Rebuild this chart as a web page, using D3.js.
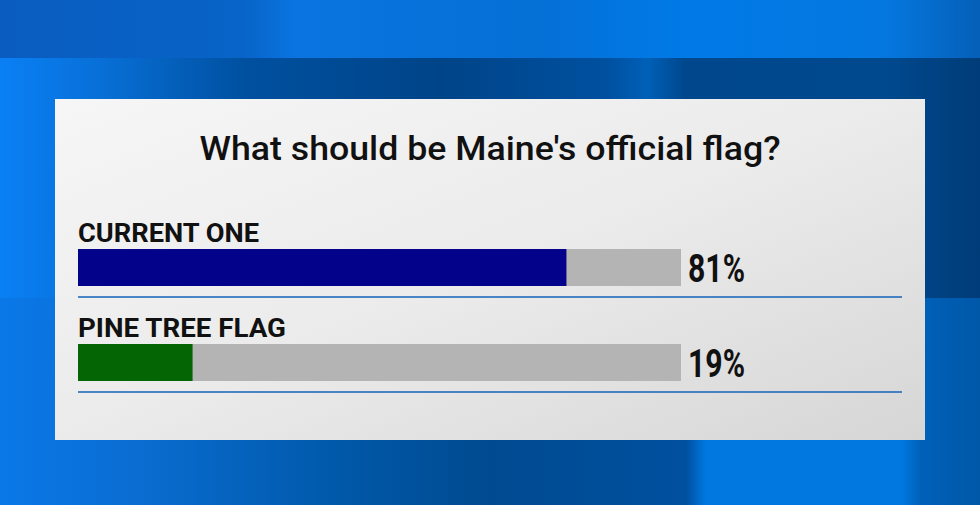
<!DOCTYPE html>
<html><head><meta charset="utf-8">
<script src="https://cdn.jsdelivr.net/npm/d3@7"></script>
<style>html,body{margin:0;padding:0;background:#0060c0;overflow:hidden}</style>
</head><body>
<svg id="c" width="980" height="505"></svg>
<script>
const title = "What should be Maine's official flag?";
const categories = ["CURRENT ONE", "PINE TREE FLAG"];
const values = [81, 19];
const valueLabels = ["81%", "19%"];
const colors = ["#02028a", "#036503"];

const svg = d3.select("#c");
const defs = svg.append("defs");

const bgTop = defs.append("linearGradient").attr("id","bgTop").attr("x1","0").attr("x2","1");
[["0","#0a5cc0"],["0.25","#0864c8"],["0.3","#0a74e0"],["0.55","#0570d6"],["0.7","#007ae8"],["0.9","#0578e0"],["1","#0560b8"]].forEach(s=>bgTop.append("stop").attr("offset",s[0]).attr("stop-color",s[1]));
const bgMid = defs.append("linearGradient").attr("id","bgMid").attr("x1","0").attr("x2","1");
[["0","#0a80f5"],["0.1","#0870d8"],["0.25","#0050a0"],["0.45","#004488"],["0.62","#0050a0"],["0.66","#0060b8"],["0.7","#00478c"],["0.9","#00498f"],["1","#003c78"]].forEach(s=>bgMid.append("stop").attr("offset",s[0]).attr("stop-color",s[1]));
const bgBot = defs.append("linearGradient").attr("id","bgBot").attr("x1","0").attr("x2","1");
[["0","#0a78e8"],["0.15","#0a6cd0"],["0.35","#0058a8"],["0.5","#004a90"],["0.7","#0050a0"],["0.72","#0078e0"],["0.92","#0078e0"],["0.94","#0060b8"],["1","#0058a8"]].forEach(s=>bgBot.append("stop").attr("offset",s[0]).attr("stop-color",s[1]));
const panelG = defs.append("linearGradient").attr("id","panelG").attr("x1","0").attr("y1","0").attr("x2","1").attr("y2","1");
panelG.append("stop").attr("offset","0").attr("stop-color","#f6f6f6");
panelG.append("stop").attr("offset","0.5").attr("stop-color","#ebebeb");
panelG.append("stop").attr("offset","1").attr("stop-color","#d6d6d6");

svg.append("rect").attr("x",0).attr("y",0).attr("width",980).attr("height",60).attr("fill","url(#bgTop)");
svg.append("rect").attr("x",0).attr("y",58).attr("width",980).attr("height",240).attr("fill","url(#bgMid)");
svg.append("rect").attr("x",0).attr("y",298).attr("width",980).attr("height",207).attr("fill","url(#bgBot)");

svg.append("rect").attr("x",55).attr("y",99).attr("width",870).attr("height",341).attr("fill","url(#panelG)");

svg.append("text").attr("x",490).attr("y",160).attr("text-anchor","middle")
  .attr("font-family","Roboto, 'Noto Sans', sans-serif").attr("font-weight",500).attr("font-size",34).attr("fill","#111")
  .attr("textLength",581).attr("lengthAdjust","spacingAndGlyphs").text(title);

const x = d3.scaleLinear().domain([0,100]).range([78,681]);
const y = d3.scalePoint().domain(categories).range([249,344]);
const barH = 37;

const g = svg.append("g").selectAll("g").data(categories).join("g");
g.append("text").attr("x",78).attr("y",c=>y(c)-7)
  .attr("font-family","Roboto, 'Noto Sans', sans-serif").attr("font-weight","bold")
  .attr("font-size",25).attr("fill","#111")
  .attr("textLength",(c,i)=>i===0?181:208).attr("lengthAdjust","spacingAndGlyphs").text(c=>c);
g.append("rect").attr("x",x(0)).attr("y",c=>y(c)).attr("width",x(100)-x(0)).attr("height",barH).attr("fill","#b4b4b4");
g.append("rect").attr("x",x(0)).attr("y",c=>y(c)).attr("width",(c,i)=>x(values[i])-x(0)).attr("height",barH).attr("fill",(c,i)=>colors[i]);
g.append("text").attr("x",x(100)+7).attr("y",c=>y(c)+33)
  .attr("font-family","Roboto, 'Noto Sans', sans-serif").attr("font-weight","bold")
  .attr("font-size",39).attr("fill","#111")
  .attr("textLength",57).attr("lengthAdjust","spacingAndGlyphs").text((c,i)=>valueLabels[i]);
g.append("line").attr("x1",78).attr("x2",902).attr("y1",c=>y(c)+48).attr("y2",c=>y(c)+48)
  .attr("stroke","#1462b8").attr("stroke-width",1.5);
</script>
</body></html>
